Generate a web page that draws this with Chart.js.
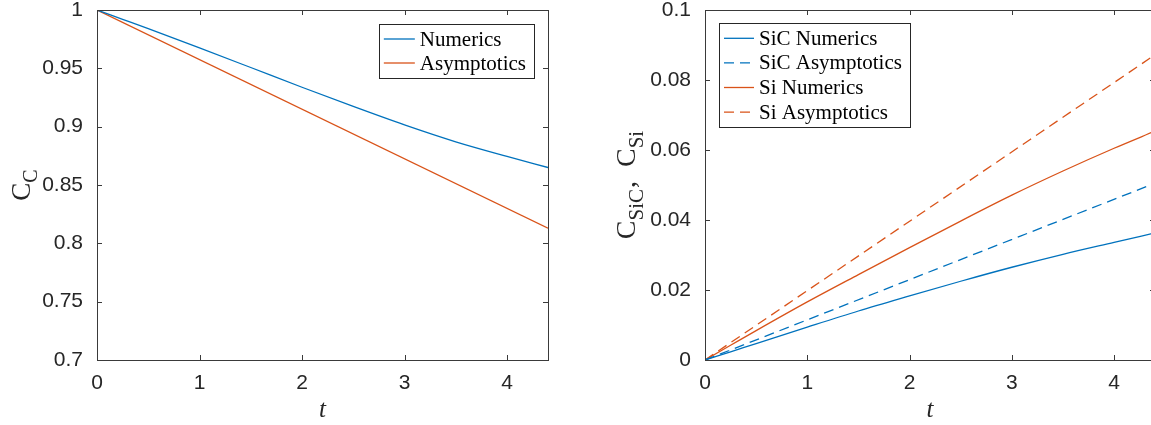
<!DOCTYPE html>
<html>
<head>
<meta charset="utf-8">
<script src="https://cdn.jsdelivr.net/npm/chart.js@4/dist/chart.umd.min.js"></script>
<style>
  html, body { margin: 0; padding: 0; background: #fff; overflow: hidden; width: 1151px; height: 425px; }
  canvas { position: absolute; top: 0; }
  #cChart { left: 0; }
  #siChart { left: 575px; }
</style>
</head>
<body>
<canvas id="cChart" width="575" height="425"></canvas>
<canvas id="siChart" width="600" height="425"></canvas>
<script>
// ---- data ----
const tNumerics = [0, 0.25, 0.5, 1, 1.5, 2, 2.5, 3, 3.5, 4, 4.4];
const tAsymptotics = [0, 4.4];

// carbon concentration
const cC_numerics = [1, 0.992, 0.984, 0.9675, 0.9507, 0.9338, 0.9173, 0.9015, 0.887, 0.8745, 0.865];
const cC_asymptotics = [1, 0.813];

// silicon carbide and silicon concentrations
const cSiC_numerics = [0, 0.00235, 0.0047, 0.0094, 0.014, 0.0183, 0.0225, 0.0265, 0.0302, 0.0336, 0.0363];
const cSiC_asymptotics = [0, 0.0505];
const cSi_numerics = [0, 0.0042, 0.0084, 0.0166, 0.0244, 0.0321, 0.0397, 0.0471, 0.054, 0.0605, 0.0654];
const cSi_asymptotics = [0, 0.0872];

// ticks
const tTicks = [0, 1, 2, 3, 4];
const cTicks = [0.7, 0.75, 0.8, 0.85, 0.9, 0.95, 1];
const siTicks = [0, 0.02, 0.04, 0.06, 0.08, 0.1];
const cTickLabels = ['0.7', '0.75', '0.8', '0.85', '0.9', '0.95', '1'];
const siTickLabels = ['0', '0.02', '0.04', '0.06', '0.08', '0.1'];

// ---- styling ----
const BLUE = '#0072BD';
const ORANGE = '#D95319';
const AXIS = '#3a3a3a';
const TEXT = '#262626';
const TICK_FONT = { family: 'Liberation Sans, Arial, sans-serif', size: 21 };
const SERIF = 'Liberation Serif, Times New Roman, serif';

const pts = (xs, ys) => xs.map((x, i) => ({ x, y: ys[i] }));

// box, inward ticks, subscripted y title and boxed legend
const framePlugin = {
  id: 'frame',
  afterDatasetsDraw(chart, args, opts) {
    const { ctx, chartArea: a, scales } = chart;
    const xs = scales.x, ys = scales.y;
    ctx.save();
    ctx.strokeStyle = AXIS;
    ctx.lineWidth = 1;
    ctx.strokeRect(a.left + 0.5, a.top + 0.5, a.right - a.left, a.bottom - a.top);
    const tl = 5;
    ctx.beginPath();
    xs.ticks.forEach(t => {
      const px = Math.round(xs.getPixelForValue(t.value)) + 0.5;
      ctx.moveTo(px, a.bottom); ctx.lineTo(px, a.bottom - tl);
      ctx.moveTo(px, a.top); ctx.lineTo(px, a.top + tl);
    });
    ys.ticks.forEach(t => {
      const py = Math.round(ys.getPixelForValue(t.value)) + 0.5;
      ctx.moveTo(a.left, py); ctx.lineTo(a.left + tl, py);
      ctx.moveTo(a.right, py); ctx.lineTo(a.right - tl, py);
    });
    ctx.stroke();

    // y axis title with subscripts
    const parts = opts.yTitle;
    const big = opts.titleSize, small = Math.round(opts.titleSize * 0.74);
    ctx.fillStyle = TEXT;
    ctx.textBaseline = 'alphabetic';
    ctx.textAlign = 'left';
    let total = 0;
    parts.forEach(p => {
      ctx.font = `${p.sub ? small : big}px ${SERIF}`;
      total += ctx.measureText(p.text).width + (p.space || 0);
    });
    ctx.translate(opts.titleX, (a.top + a.bottom) / 2 + total / 2);
    ctx.rotate(-Math.PI / 2);
    let x = 0;
    parts.forEach(p => {
      ctx.font = `${p.sub ? small : big}px ${SERIF}`;
      ctx.fillText(p.text, x, p.sub ? big * 0.27 : 0);
      x += ctx.measureText(p.text).width + (p.space || 0);
    });
    ctx.setTransform(1, 0, 0, 1, 0, 0);

    // legend
    const L = opts.legend;
    ctx.font = `21px ${SERIF}`;
    let w = 0;
    chart.data.datasets.forEach(d => { w = Math.max(w, ctx.measureText(d.label).width); });
    const bw = L.sample + L.gap + w + 8 + 5;
    const bh = chart.data.datasets.length * L.row + 6;
    const bx = L.right != null ? a.right - L.right - bw : a.left + L.left;
    const by = a.top + L.top;
    ctx.fillStyle = '#fff';
    ctx.fillRect(bx, by, bw, bh);
    ctx.strokeStyle = '#262626';
    ctx.lineWidth = 1;
    ctx.strokeRect(Math.round(bx) + 0.5, Math.round(by) + 0.5, Math.round(bw), Math.round(bh));
    chart.data.datasets.forEach((d, i) => {
      const cy = by + 3 + L.row * (i + 0.5);
      ctx.strokeStyle = d.borderColor;
      ctx.lineWidth = d.borderWidth;
      ctx.setLineDash(d.borderDash || []);
      ctx.beginPath();
      ctx.moveTo(bx + 5, cy); ctx.lineTo(bx + 5 + L.sample, cy);
      ctx.stroke();
      ctx.setLineDash([]);
      ctx.fillStyle = '#000';
      ctx.textBaseline = 'middle';
      ctx.fillText(d.label, bx + 5 + L.sample + L.gap, cy + 1);
    });
    ctx.restore();
  }
};

const noPad = s => { s.paddingTop = 0; s.paddingBottom = 0; s.paddingLeft = 0; s.paddingRight = 0; };

function makeScales(yMin, yMax, yTickValues, yLabels, yWidth) {
  return {
    x: {
      type: 'linear', min: 0, max: 4.4,
      afterBuildTicks: s => { s.ticks = tTicks.map(v => ({ value: v })); },
      afterFit: s => { s.height = 65; noPad(s); },
      grid: { display: false, drawTicks: false },
      border: { display: false },
      ticks: { font: TICK_FONT, color: TEXT, padding: 11, maxRotation: 0,
               callback: v => String(v) },
      title: { display: true, text: 't', color: TEXT, padding: { top: 2, bottom: 0 },
               font: { family: SERIF, size: 25, style: 'italic' } }
    },
    y: {
      type: 'linear', min: yMin, max: yMax,
      afterBuildTicks: s => { s.ticks = yTickValues.map(v => ({ value: v })); },
      afterFit: s => { s.width = yWidth; noPad(s); },
      grid: { display: false, drawTicks: false },
      border: { display: false },
      ticks: { font: TICK_FONT, color: TEXT, padding: 14,
               callback: (v, i) => yLabels[i] }
    }
  };
}

const line = (label, data, color, dashed) => ({
  label, data, borderColor: color, backgroundColor: color,
  borderWidth: 1.3, pointRadius: 0, fill: false,
  borderDash: dashed ? [10, 6] : undefined,
  cubicInterpolationMode: 'monotone'
});

const common = {
  responsive: false, animation: false, devicePixelRatio: 1,
  plugins: { legend: { display: false }, tooltip: { enabled: false } }
};

new Chart(document.getElementById('cChart'), {
  type: 'line',
  data: {
    datasets: [
      line('Numerics', pts(tNumerics, cC_numerics), BLUE, false),
      line('Asymptotics', pts(tAsymptotics, cC_asymptotics), ORANGE, false)
    ]
  },
  options: Object.assign({}, common, {
    layout: { padding: { top: 10, right: 27, left: 0, bottom: 0 } },
    scales: makeScales(0.7, 1, cTicks, cTickLabels, 97),
    plugins: Object.assign({}, common.plugins, {
      frame: {
        yTitle: [{ text: 'C' }, { text: 'C', sub: true }],
        titleSize: 27, titleX: 30,
        legend: { right: 14, top: 14, sample: 31, gap: 5, row: 24 }
      }
    })
  }),
  plugins: [framePlugin]
});

new Chart(document.getElementById('siChart'), {
  type: 'line',
  data: {
    datasets: [
      line('SiC Numerics', pts(tNumerics, cSiC_numerics), BLUE, false),
      line('SiC Asymptotics', pts(tAsymptotics, cSiC_asymptotics), BLUE, true),
      line('Si Numerics', pts(tNumerics, cSi_numerics), ORANGE, false),
      line('Si Asymptotics', pts(tAsymptotics, cSi_asymptotics), ORANGE, true)
    ]
  },
  options: Object.assign({}, common, {
    layout: { padding: { top: 10, right: 20, left: 0, bottom: 0 } },
    scales: makeScales(0, 0.1, siTicks, siTickLabels, 130),
    plugins: Object.assign({}, common.plugins, {
      frame: {
        yTitle: [{ text: 'C' }, { text: 'SiC', sub: true, space: 1 }, { text: ',  C' }, { text: 'Si', sub: true }],
        titleSize: 28, titleX: 60,
        legend: { left: 14, top: 13, sample: 30, gap: 5, row: 24.6 }
      }
    })
  }),
  plugins: [framePlugin]
});
</script>
</body>
</html>
